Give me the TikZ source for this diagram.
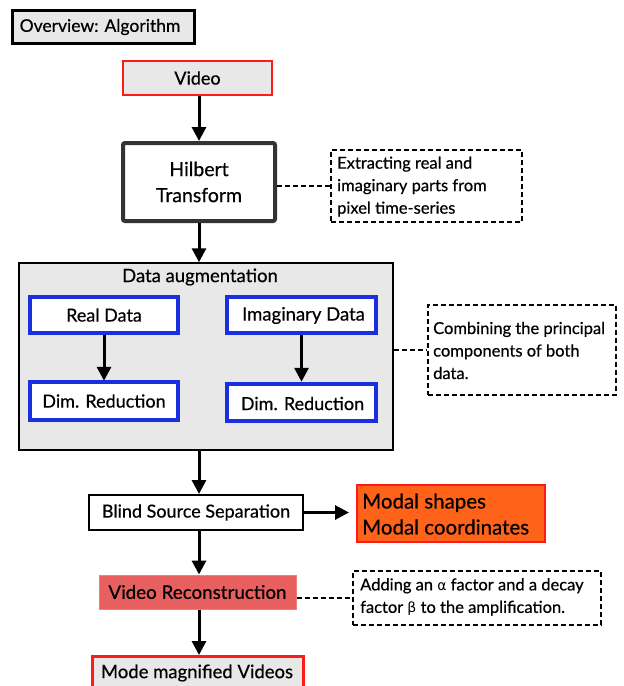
\documentclass[tikz,border=0pt]{standalone}
\usepackage{fontspec}
\setmainfont{Lato}[FakeBold=0.5]
\newfontfamily\gkfont{DejaVu Sans}
\usetikzlibrary{arrows.meta,calc}
\definecolor{boxgray}{HTML}{E8E8E8}
\definecolor{redline}{HTML}{FF1A1A}
\definecolor{blueline}{HTML}{1A30E0}
\definecolor{orangefill}{HTML}{FF6319}
\definecolor{salmon}{HTML}{E85F5F}
\definecolor{darkline}{HTML}{333333}
\tikzset{
  box/.style={draw, rectangle, inner sep=0pt, align=center, font=\fontsize{18}{21}\selectfont},
  bluebox/.style={box, draw=blueline, line width=3.5pt, fill=white},
  note/.style={draw, dashed, dash pattern=on 5pt off 3pt, line width=1.2pt, rectangle, inner sep=0pt},
  notetext/.style={anchor=west, align=left, inner sep=0pt, font=\fontsize{16.5}{22.5}\selectfont},
  arr/.style={-{Triangle[length=14pt,width=14pt]}, line width=3pt},
  link/.style={dashed, dash pattern=on 5pt off 3pt, line width=1.2pt}
}
\begin{document}
\begin{tikzpicture}[x=1pt,y=-1pt]
\useasboundingbox (0,0) rectangle (624,686);
\clip (0,0) rectangle (624,686);
\node[box, fill=boxgray, line width=3pt, minimum width=182pt, minimum height=33pt] (title) at (103,26.5) {};
\node[inner sep=0pt, font=\fontsize{17.5}{21}\selectfont] (titlet) at (100,27) {Overview: Algorithm};
\node[box, fill=boxgray, draw=redline, line width=2pt, minimum width=149pt, minimum height=34pt] (video) at (197.5,78) {Video};
\node[box, fill=white, draw=darkline, line width=4pt, rounded corners=2pt, minimum width=152pt, minimum height=78pt, font=\fontsize{19.5}{26}\selectfont] (hilbert) at (199,182) {Hilbert\\Transform};
\node[note, minimum width=191pt, minimum height=72pt] (note1) at (426.5,186) {};
\node[notetext] (note1t) at (337,186.5) {Extracting real and\\imaginary parts from\\pixel time-series};
\node[box, fill=boxgray, line width=1.5pt, minimum width=374pt, minimum height=187pt] (aug) at (206,356.5) {};
\node[inner sep=0pt, font=\fontsize{18.5}{21}\selectfont] (augt) at (200,277) {Data augmentation};
\node[bluebox, minimum width=148pt, minimum height=36pt] (real) at (104,315) {Real Data};
\node[bluebox, minimum width=148pt, minimum height=38pt] (diml) at (104,401) {Dim. Reduction};
\node[bluebox, minimum width=149pt, minimum height=36pt] (imag) at (301.5,315) {};
\node[inner sep=0pt, font=\fontsize{18.5}{21}\selectfont] (imagt) at (303.5,315.5) {Imaginary Data};
\node[bluebox, minimum width=149pt, minimum height=37pt] (dimr) at (301.5,402.5) {};
\node[inner sep=0pt, font=\fontsize{18}{21}\selectfont] (dimrt) at (302.5,403.5) {Dim. Reduction};
\node[note, minimum width=188pt, minimum height=90pt] (note2) at (522,350) {};
\node[notetext] (note2t) at (433,350.5) {Combining the principal\\components of both\\data.};
\node[box, fill=white, line width=2pt, minimum width=214pt, minimum height=35pt] (bss) at (196,512.5) {Blind Source Separation};
\node[box, fill=orangefill, draw=redline, line width=2pt, minimum width=188pt, minimum height=57pt] (modal) at (451,513.5) {};
\node[anchor=west, align=left, inner sep=0pt, font=\fontsize{20.5}{26}\selectfont] (modalt) at (362,514) {Modal shapes\\Modal coordinates};
\node[box, fill=salmon, draw=salmon!80!white, line width=1pt, minimum width=197pt, minimum height=34pt, font=\fontsize{18.8}{21}\selectfont] (vr) at (197.5,592) {Video Reconstruction};
\node[note, minimum width=248pt, minimum height=54pt] (note3) at (477,598) {};
\node[notetext] (note3t) at (360,597) {Adding an {\gkfont\fontsize{14}{22.5}\selectfont α} factor and a decay\\factor {\gkfont\fontsize{14}{22.5}\selectfont β} to the amplification.};
\node[box, fill=boxgray, draw=redline, line width=3pt, minimum width=211pt, minimum height=40pt, anchor=north] (mmv) at (197.5,655) {};
\node[inner sep=0pt, font=\fontsize{18.5}{21}\selectfont] (mmvt) at (197,673) {Mode magnified Videos};
% arrows
\draw[arr] (hilbert.north |- video.south) -- (hilbert.north);
\draw[arr] (hilbert.south) -- (hilbert.south |- aug.north);
\draw[arr] (real.south) -- ++(0,46);
\draw[arr] (imag.south) -- ++(0,47);
\draw[arr] (hilbert.south |- aug.south) -- (hilbert.south |- bss.north);
\draw[arr] (bss.east) -- ($(bss.east -| modal.west)+(-7,0)$);
\draw[arr] (hilbert.south |- bss.south) -- (hilbert.south |- vr.north);
\draw[arr] (hilbert.south |- vr.south) -- (hilbert.south |- mmv.north);
% dashed links
\draw[link] (hilbert.east |- note1.west) -- (note1.west);
\draw[link] (aug.east |- note2.west) -- (note2.west);
\draw[link] (vr.east |- note3.west) -- (note3.west);
\end{tikzpicture}
\end{document}
